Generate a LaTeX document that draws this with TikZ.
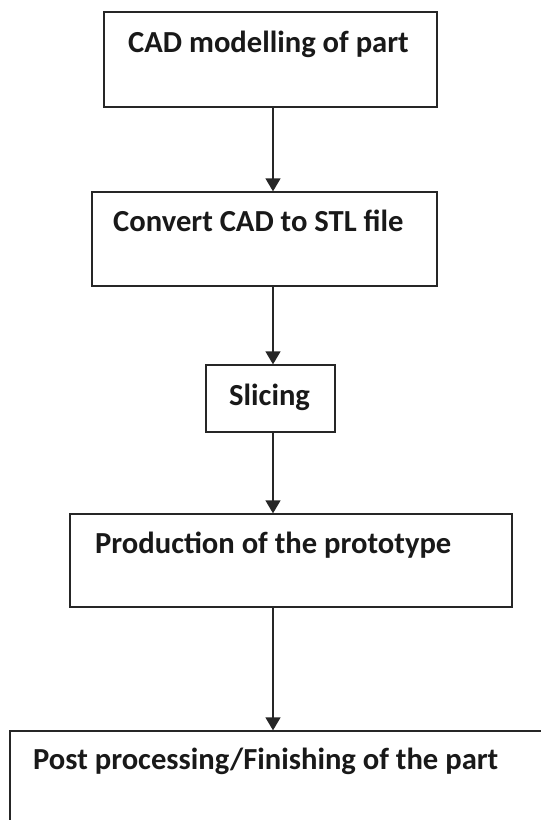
\documentclass[tikz,border=0pt]{standalone}
\usepackage{fontspec}
\setmainfont{Carlito}
\usetikzlibrary{arrows.meta}
\begin{document}
\begin{tikzpicture}[x=1pt,y=-1pt,
  box/.style={draw=black!85,line width=1.3pt,minimum width=0pt,inner sep=0pt,rectangle},
  lbl/.style={anchor=base west,inner sep=0pt,font=\fontsize{30.6}{33}\selectfont\bfseries,text=black!90},
  conn/.style={draw=black!85,line width=1.3pt,-{Triangle[length=13pt,width=15pt]}}]
\useasboundingbox (0,0) rectangle (541,820);
\clip (0,0) rectangle (541,820);
\coordinate (ax) at (273,0);
\node[box,minimum width=333pt,minimum height=95pt] (b1) at (270.5,59.5) {};
\node[box,minimum width=345pt,minimum height=94pt] (b2) at (264.5,239) {};
\node[box,minimum width=129pt,minimum height=67pt] (b3) at (270.5,398.5) {};
\node[box,minimum width=442pt,minimum height=93pt] (b4) at (291,560.5) {};
\node[box,minimum width=560pt,minimum height=120pt] (b5) at (290,791) {};
\node[lbl] (t1) at (128,52) {CAD modelling of part};
\node[lbl] (t2) at (113,231) {Convert CAD to STL file};
\node[lbl] (t3) at (229,405) {Slicing};
\node[lbl] (t4) at (95,553) {Production of the prototype};
\node[lbl] (t5) at (33,769) {Post processing/Finishing of the part};
\draw[conn] (b1.south -| ax) -- (b2.north -| ax);
\draw[conn] (b2.south -| ax) -- (b3.north -| ax);
\draw[conn] (b3.south -| ax) -- (b4.north -| ax);
\draw[conn] (b4.south -| ax) -- (b5.north -| ax);
\end{tikzpicture}
\end{document}
